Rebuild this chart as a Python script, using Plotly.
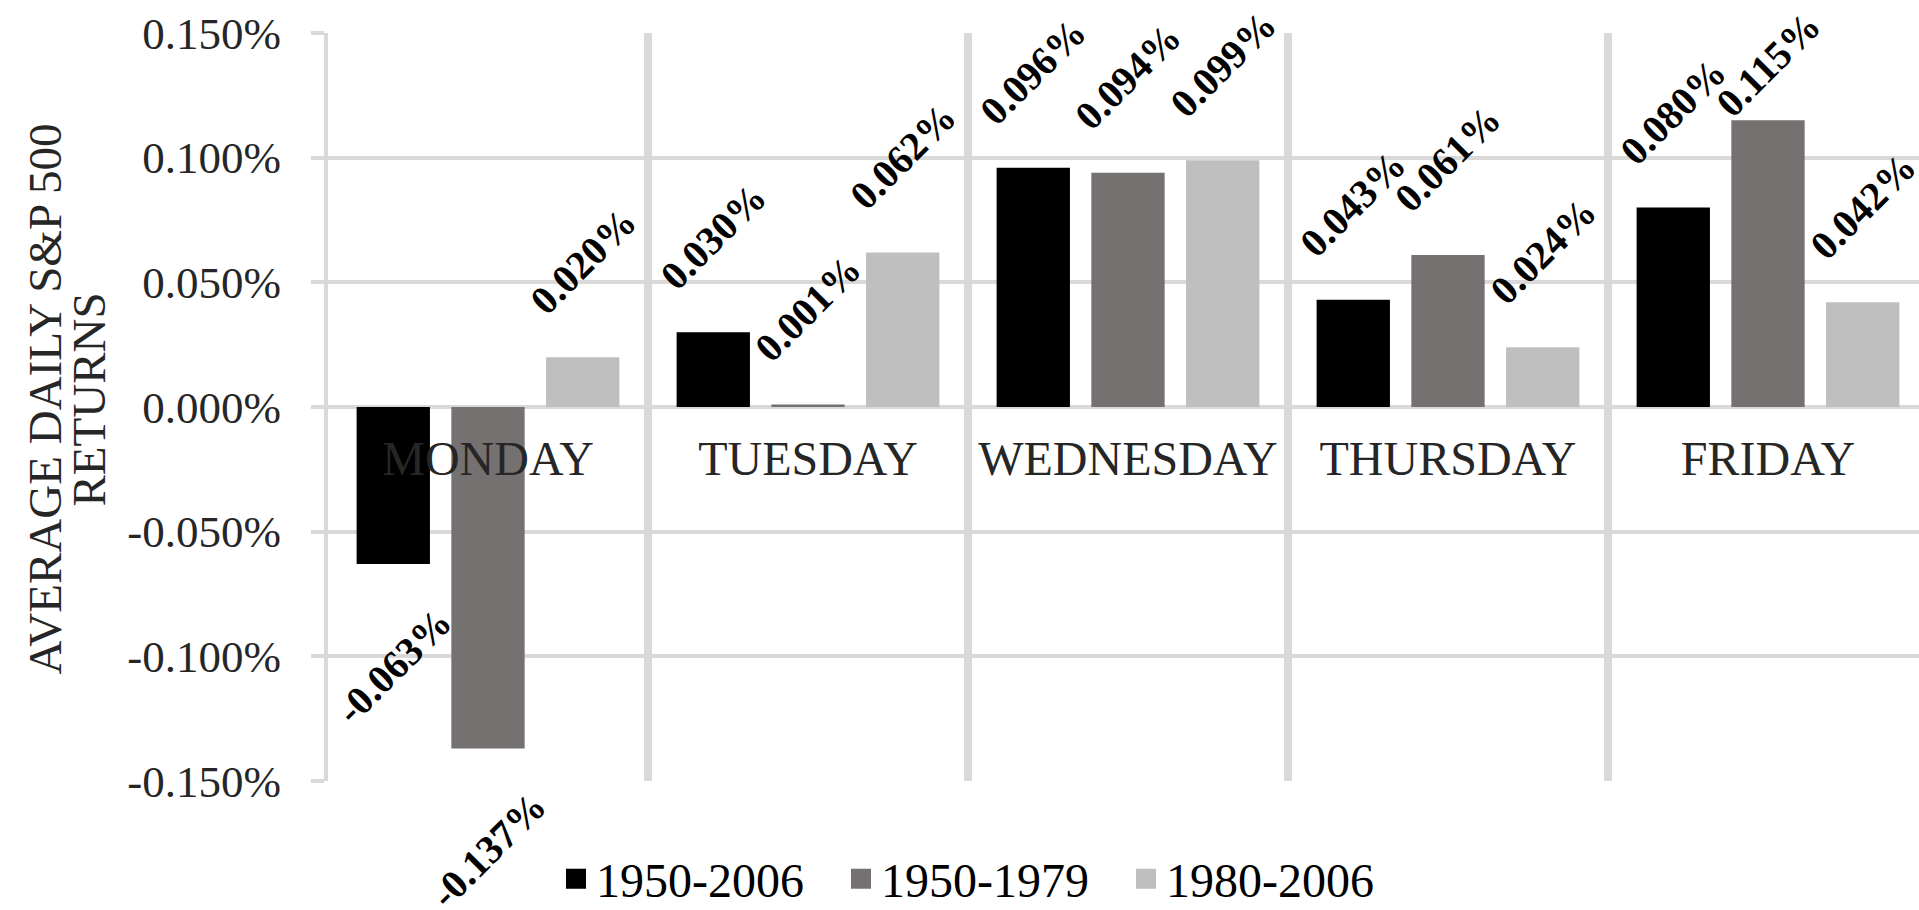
import plotly.graph_objects as go

# data (average daily returns, in %)
days = ["MONDAY", "TUESDAY", "WEDNESDAY", "THURSDAY", "FRIDAY"]
series_names = ["1950-2006", "1950-1979", "1980-2006"]
ret_1950_2006 = [-0.063, 0.030, 0.096, 0.043, 0.080]
ret_1950_1979 = [-0.137, 0.001, 0.094, 0.061, 0.115]
ret_1980_2006 = [0.020, 0.062, 0.099, 0.024, 0.042]
y_tick_vals = [-0.15, -0.10, -0.05, 0.0, 0.05, 0.10, 0.15]
y_tick_text = ["-0.150%", "-0.100%", "-0.050%", "0.000%", "0.050%", "0.100%", "0.150%"]
y_title_lines = ["AVERAGE DAILY S&P 500", "RETURNS"]

colors = ["#000000", "#767171", "#bfbfbf"]
grid = "#d9d9d9"
serif = "Liberation Serif"

W, H = 1919, 910
ML, MR, MT, MB = 328, 0, 33, 129
plot_w = W - ML - MR
plot_h = H - MT - MB
cat_px = 320.0
x_range = [-0.5, -0.5 + plot_w / cat_px]
y_range = [-0.15, 0.15]
bargap = 0.112
slot_px = cat_px * (1 - bargap) / 3

fig = go.Figure()

all_series = [ret_1950_2006, ret_1950_1979, ret_1980_2006]
for name, vals, col in zip(series_names, all_series, colors):
    fig.add_trace(
        go.Bar(
            x=days,
            y=vals,
            name=name,
            marker=dict(color=col, line=dict(width=0)),
            showlegend=False,
            hoverinfo="skip",
        )
    )

# legend-only traces so the legend squares are large like the original
for name, col in zip(series_names, colors):
    fig.add_trace(
        go.Scatter(
            x=[None],
            y=[None],
            mode="markers",
            name=name,
            marker=dict(symbol="square", size=24, color=col, line=dict(width=4, color=col)),
        )
    )

# rotated bold value labels
annotations = []
for i, vals in enumerate(all_series):
    for day, v in zip(days, vals):
        end_px = MT + (y_range[1] - v) / (y_range[1] - y_range[0]) * plot_h
        if v >= 0:
            shift = 96
            center = end_px - shift
            if center < 64:
                shift -= 64 - center
        else:
            shift = -102
        annotations.append(
            dict(
                x=day,
                y=v,
                xref="x",
                yref="y",
                text=f"{v:.3f}%",
                showarrow=False,
                textangle=-45,
                xanchor="center",
                yanchor="middle",
                xshift=(i - 1) * slot_px,
                yshift=shift,
                font=dict(family=serif, size=40, color="#000000", weight="bold"),
            )
        )

# y-axis title, two lines set tighter than plotly's default line height
for k, line in enumerate(y_title_lines):
    annotations.append(
        dict(
            x=(45 + k * 44 - ML) / plot_w,
            y=0.51,
            xref="paper",
            yref="paper",
            text=line,
            showarrow=False,
            textangle=-90,
            xanchor="center",
            yanchor="middle",
            font=dict(family=serif, size=47, color="#262626"),
        )
    )

fig.update_layout(
    width=W,
    height=H,
    margin=dict(l=ML, r=MR, t=MT, b=MB, autoexpand=False),
    paper_bgcolor="white",
    plot_bgcolor="white",
    barmode="group",
    bargap=bargap,
    bargroupgap=0.226,
    font=dict(family=serif, color="#262626"),
    annotations=annotations,
    legend=dict(
        orientation="h",
        xref="container",
        yref="container",
        x=556 / W,
        xanchor="left",
        y=1 - 879 / H,
        yanchor="middle",
        font=dict(family=serif, size=48, color="#000000"),
        entrywidth=240,
        entrywidthmode="pixels",
        bgcolor="rgba(0,0,0,0)",
    ),
)

fig.update_xaxes(
    type="category",
    categoryorder="array",
    categoryarray=days,
    range=x_range,
    anchor="free",
    position=0.5,
    tickson="boundaries",
    showgrid=True,
    gridcolor=grid,
    gridwidth=8,
    ticks="",
    showline=False,
    zeroline=False,
    automargin=False,
    ticklabelstandoff=19,
    tickfont=dict(family=serif, size=48, color="#262626"),
)

fig.update_yaxes(
    range=y_range,
    tickvals=y_tick_vals,
    ticktext=y_tick_text,
    showgrid=True,
    gridcolor=grid,
    gridwidth=4,
    zeroline=False,
    showline=True,
    linecolor=grid,
    linewidth=4,
    ticks="outside",
    ticklen=13,
    tickwidth=4,
    tickcolor=grid,
    automargin=False,
    ticklabelstandoff=21,
    tickfont=dict(family=serif, size=45, color="#262626"),
)

# the page's default body margin would push the chart 8px right and down
fig.write_html(
    "out.html",
    config={"displayModeBar": False},
    post_script="document.body.style.margin='0';",
)
